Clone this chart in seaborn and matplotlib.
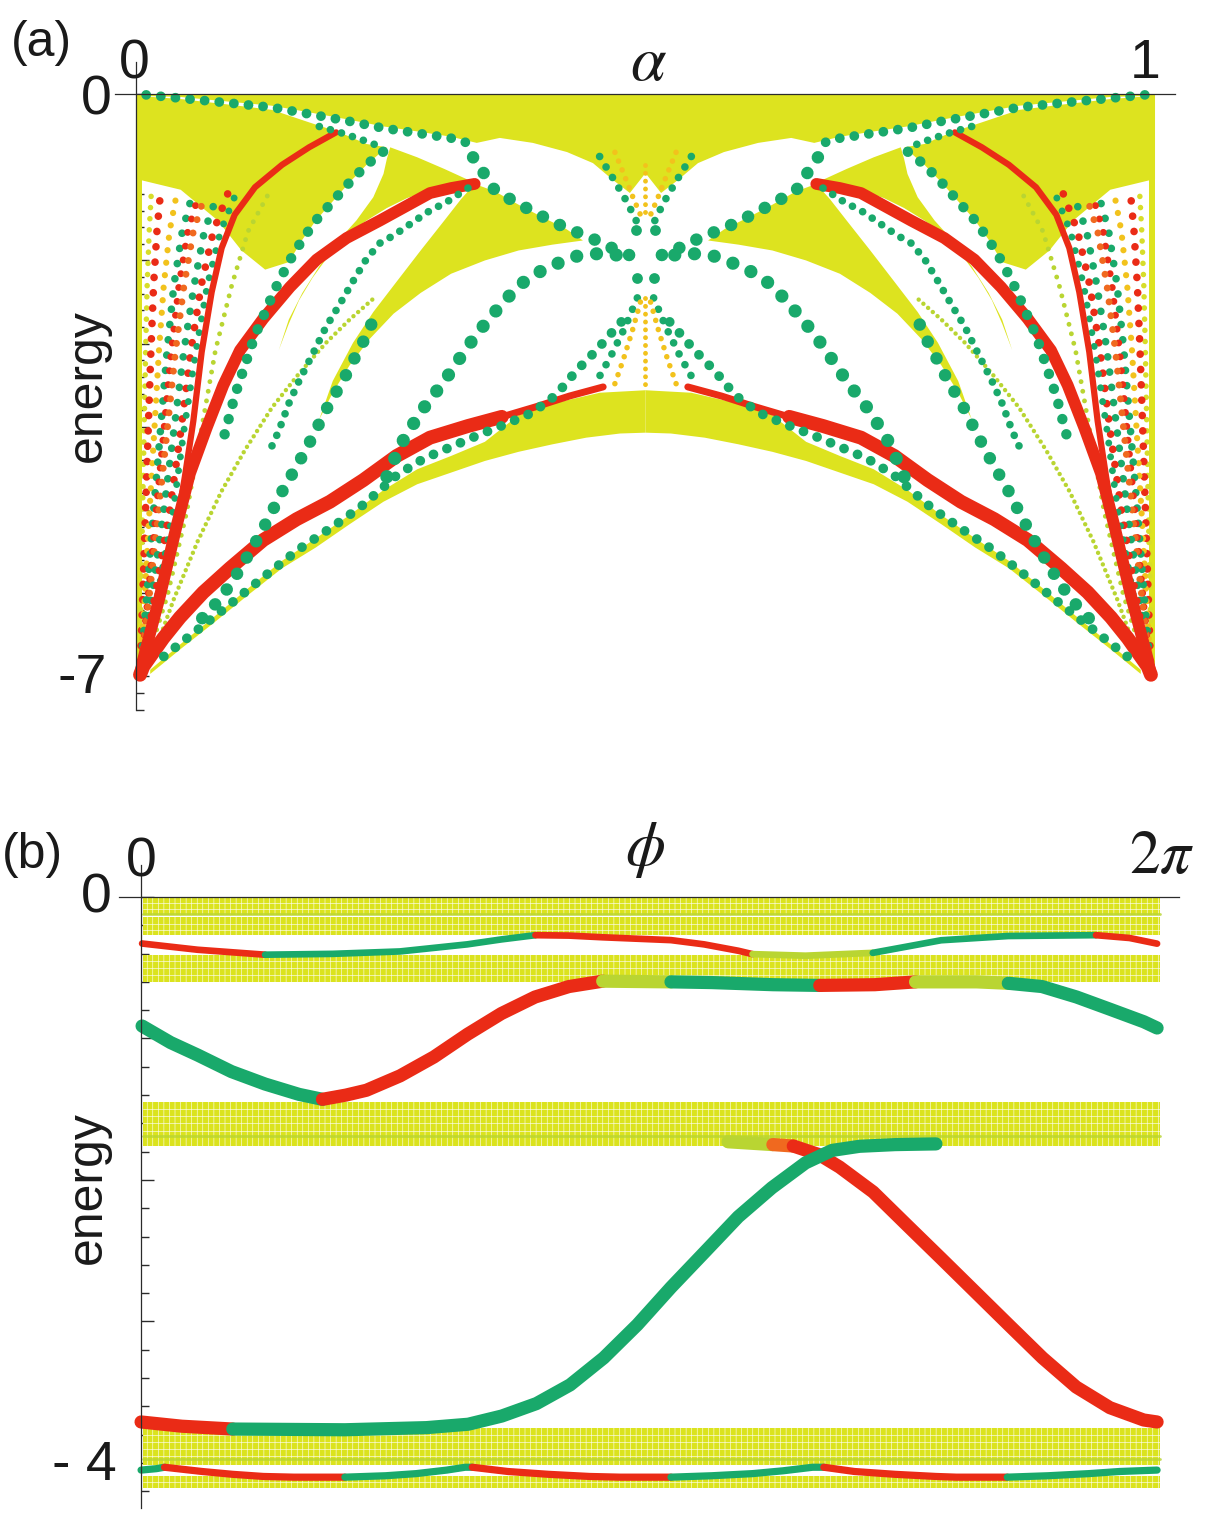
import numpy as np
import seaborn as sns
import matplotlib.pyplot as plt
from matplotlib.ticker import FixedLocator, NullFormatter

# colours picked off the figure
YEL = "#dde31f"
BAND = "#dbe31e"
LIME = "#b9d532"
GRN = "#19a96b"
RED = "#ea2b16"
ORG = "#f0691f"
GOLD = "#f2c21c"
AXC = "#2b2b2b"

# ---------------- panel (a): energy against alpha ----------------
# thick red edge curves (left half / mirrored right half share the energies)
r1_alpha_l = [0.0040, 0.0072, 0.0268, 0.0432, 0.0660, 0.0922, 0.1249, 0.1577, 0.1904, 0.2231, 0.2558, 0.2885, 0.3258, 0.3590, 0.3921, 0.4253, 0.4585]
r1_alpha_r = [0.9960, 0.9928, 0.9732, 0.9568, 0.9340, 0.9078, 0.8751, 0.8423, 0.8096, 0.7769, 0.7442, 0.7115, 0.6742, 0.6410, 0.6079, 0.5747, 0.5415]
r1_energy = [-6.98, -6.88, -6.54, -6.29, -5.99, -5.70, -5.36, -5.11, -4.90, -4.64, -4.35, -4.13, -3.99, -3.88, -3.76, -3.63, -3.52]

r2_alpha_l = [0.0040, 0.0072, 0.0236, 0.0399, 0.0530, 0.0694, 0.0857, 0.1021, 0.1249, 0.1511, 0.1773, 0.2068, 0.2394, 0.2885, 0.3092, 0.3324]
r2_alpha_r = [0.9960, 0.9928, 0.9764, 0.9601, 0.9470, 0.9306, 0.9143, 0.8979, 0.8751, 0.8489, 0.8227, 0.7932, 0.7606, 0.7115, 0.6908, 0.6676]
r2_energy = [-6.98, -6.79, -6.03, -5.19, -4.56, -4.01, -3.50, -3.08, -2.70, -2.32, -1.99, -1.73, -1.52, -1.19, -1.13, -1.08]

r3_alpha_l = [0.0040, 0.0236, 0.0399, 0.0480, 0.0563, 0.0645, 0.0743, 0.0841, 0.0969, 0.1168, 0.1434, 0.1699, 0.1964]
r3_alpha_r = [0.9960, 0.9764, 0.9601, 0.9520, 0.9437, 0.9355, 0.9257, 0.9159, 0.9031, 0.8832, 0.8566, 0.8301, 0.8036]
r3_energy = [-6.98, -6.03, -5.19, -4.60, -3.93, -3.10, -2.38, -1.85, -1.45, -1.12, -0.85, -0.64, -0.46]

# green dotted states
gtop_alpha_l = [0.0100, 0.0439, 0.0936, 0.1334, 0.1699, 0.2064, 0.2429, 0.2760, 0.3092, 0.3291]
gtop_alpha_r = [0.9900, 0.9561, 0.9064, 0.8666, 0.8301, 0.7936, 0.7571, 0.7240, 0.6908, 0.6709]
gtop_energy = [-0.01, -0.05, -0.11, -0.16, -0.24, -0.32, -0.41, -0.47, -0.53, -0.60]

gtop2_alpha_l = [0.1799, 0.1998, 0.2197, 0.2396]
gtop2_alpha_r = [0.8201, 0.8002, 0.7803, 0.7604]
gtop2_energy = [-0.39, -0.46, -0.54, -0.63]

gc1_alpha_l = [0.3308, 0.3407, 0.3523, 0.3755, 0.3988, 0.4220, 0.4452, 0.4651, 0.4850, 0.4950]
gc1_alpha_r = [0.6692, 0.6593, 0.6477, 0.6245, 0.6012, 0.5780, 0.5548, 0.5349, 0.5150, 0.5050]
gc1_energy = [-0.76, -0.94, -1.16, -1.32, -1.47, -1.61, -1.72, -1.84, -1.94, -1.98]

glow_alpha_l = [0.0273, 0.0604, 0.0936, 0.1268, 0.1600, 0.1931, 0.2197, 0.2396, 0.2561, 0.2827, 0.3092, 0.3358, 0.3623, 0.3888, 0.4120, 0.4319, 0.4518, 0.4717, 0.4850]
glow_alpha_r = [0.9727, 0.9396, 0.9064, 0.8732, 0.8400, 0.8069, 0.7803, 0.7604, 0.7439, 0.7173, 0.6908, 0.6642, 0.6377, 0.6112, 0.5880, 0.5681, 0.5482, 0.5283, 0.5150]
glow_energy = [-6.76, -6.44, -6.12, -5.79, -5.47, -5.20, -4.97, -4.76, -4.58, -4.38, -4.24, -4.10, -3.97, -3.83, -3.62, -3.33, -3.08, -2.80, -2.62]

gc2_alpha_l = [0.2462, 0.2595, 0.2794, 0.3026, 0.3258, 0.3457, 0.3755, 0.4021, 0.4319, 0.4585, 0.4900]
gc2_alpha_r = [0.7538, 0.7405, 0.7206, 0.6974, 0.6742, 0.6543, 0.6245, 0.5979, 0.5681, 0.5415, 0.5100]
gc2_energy = [-4.60, -4.22, -3.82, -3.45, -3.03, -2.71, -2.30, -2.09, -1.95, -1.91, -1.97]

g3_alpha_l = [0.0650, 0.0803, 0.0936, 0.1069, 0.1201, 0.1318, 0.1434, 0.1550, 0.1666, 0.1782, 0.1898, 0.2031, 0.2147, 0.2263, 0.2362]
g3_alpha_r = [0.9350, 0.9197, 0.9064, 0.8931, 0.8799, 0.8682, 0.8566, 0.8450, 0.8334, 0.8218, 0.8102, 0.7969, 0.7853, 0.7737, 0.7638]
g3_energy = [-6.30, -6.10, -5.88, -5.61, -5.33, -5.06, -4.78, -4.53, -4.28, -4.00, -3.72, -3.45, -3.17, -2.90, -2.62]

g7_alpha_l = [0.0870, 0.0969, 0.1069, 0.1168, 0.1268, 0.1367, 0.1500, 0.1633, 0.1765, 0.1931, 0.2097, 0.2263, 0.2429]
g7_alpha_r = [0.9130, 0.9031, 0.8931, 0.8832, 0.8732, 0.8633, 0.8500, 0.8367, 0.8235, 0.8069, 0.7903, 0.7737, 0.7571]
g7_energy = [-4.09, -3.63, -3.26, -2.90, -2.62, -2.34, -2.02, -1.75, -1.52, -1.29, -1.06, -0.85, -0.69]

g8_alpha_l = [0.3258, 0.3059, 0.2860, 0.2694, 0.2528, 0.2396, 0.2263, 0.2130, 0.1998, 0.1865, 0.1732, 0.1600, 0.1500, 0.1401, 0.1301]
g8_alpha_r = [0.6742, 0.6941, 0.7140, 0.7306, 0.7472, 0.7604, 0.7737, 0.7870, 0.8002, 0.8135, 0.8268, 0.8400, 0.8500, 0.8599, 0.8699]
g8_energy = [-1.13, -1.29, -1.42, -1.56, -1.70, -1.79, -1.98, -2.25, -2.53, -2.80, -3.13, -3.45, -3.72, -4.05, -4.32]

yl1_alpha_l = [0.0140, 0.0372, 0.0604, 0.0837, 0.1069, 0.1334, 0.1600, 0.1865, 0.2097, 0.2329]
yl1_alpha_r = [0.9860, 0.9628, 0.9396, 0.9163, 0.8931, 0.8666, 0.8400, 0.8135, 0.7903, 0.7671]
yl1_energy = [-6.85, -6.07, -5.38, -4.78, -4.28, -3.77, -3.36, -2.99, -2.71, -2.46]

# fan of levels crowding near alpha = 0 and alpha = 1
fan_energy = [-7.00, -6.02, -5.01, -4.05, -3.08, -2.30, -1.65, -1.20]
f10_alpha_l = [0.0030, 0.0050, 0.0065, 0.0080, 0.0095, 0.0110, 0.0130, 0.0150]
f10_alpha_r = [0.9970, 0.9950, 0.9935, 0.9920, 0.9905, 0.9890, 0.9870, 0.9850]
f1_alpha_l = [0.0040, 0.0067, 0.0094, 0.0120, 0.0147, 0.0173, 0.0206, 0.0240]
f1_alpha_r = [0.9960, 0.9933, 0.9906, 0.9880, 0.9853, 0.9827, 0.9794, 0.9760]
f7_alpha_l = [0.0040, 0.0087, 0.0133, 0.0180, 0.0226, 0.0273, 0.0330, 0.0400]
f7_alpha_r = [0.9960, 0.9913, 0.9867, 0.9820, 0.9774, 0.9727, 0.9670, 0.9600]
f2_alpha_l = [0.0040, 0.0107, 0.0173, 0.0240, 0.0306, 0.0372, 0.0455, 0.0555]
f2_alpha_r = [0.9960, 0.9893, 0.9827, 0.9760, 0.9694, 0.9628, 0.9545, 0.9445]
f8_alpha_l = [0.0040, 0.0120, 0.0198, 0.0273, 0.0348, 0.0422, 0.0509, 0.0618]
f8_alpha_r = [0.9960, 0.9880, 0.9802, 0.9727, 0.9652, 0.9578, 0.9491, 0.9382]
f5_alpha_l = [0.0040, 0.0132, 0.0223, 0.0306, 0.0389, 0.0472, 0.0563, 0.0680]
f5_alpha_r = [0.9960, 0.9868, 0.9777, 0.9694, 0.9611, 0.9528, 0.9437, 0.9320]
f3_alpha_l = [0.0040, 0.0157, 0.0273, 0.0372, 0.0472, 0.0571, 0.0671, 0.0803]
f3_alpha_r = [0.9960, 0.9843, 0.9727, 0.9628, 0.9528, 0.9429, 0.9329, 0.9197]
f6_alpha_l = [0.0040, 0.0190, 0.0330, 0.0440, 0.0540, 0.0640, 0.0760, 0.0900]
f6_alpha_r = [0.9960, 0.9810, 0.9670, 0.9560, 0.9460, 0.9360, 0.9240, 0.9100]
f9_alpha_l = [0.0040, 0.0213, 0.0365, 0.0470, 0.0590, 0.0700, 0.0830, 0.0980]
f9_alpha_r = [0.9960, 0.9787, 0.9635, 0.9530, 0.9410, 0.9300, 0.9170, 0.9020]
f4_alpha_l = [0.0060, 0.0310, 0.0500, 0.0640, 0.0780, 0.0940, 0.1100, 0.1300]
f4_alpha_r = [0.9940, 0.9690, 0.9500, 0.9360, 0.9220, 0.9060, 0.8900, 0.8700]

# central clusters
cl_up_alpha_l = [0.455, 0.470, 0.482, 0.492]
cl_up_alpha_r = [0.545, 0.530, 0.518, 0.508]
cl_up_energy = [-0.75, -1.05, -1.30, -1.55]
cl_up2_alpha_l = [0.470, 0.480, 0.488, 0.495]
cl_up2_alpha_r = [0.530, 0.520, 0.512, 0.505]
cl_up2_energy = [-0.70, -1.00, -1.25, -1.45]
cl_lo_alpha_l = [0.492, 0.480, 0.466, 0.450]
cl_lo_alpha_r = [0.508, 0.520, 0.534, 0.550]
cl_lo_energy = [-2.45, -2.80, -3.15, -3.50]
cl_lo2_alpha_l = [0.495, 0.487, 0.478, 0.468]
cl_lo2_alpha_r = [0.505, 0.513, 0.522, 0.532]
cl_lo2_energy = [-2.50, -2.85, -3.20, -3.55]
ctr_alpha = [0.5, 0.5]
ctr_up_energy = [-0.85, -1.50]
ctr_lo_energy = [-2.45, -3.55]
node_alpha = [0.491, 0.509, 0.492, 0.508]
node_energy = [-1.63, -1.63, -2.21, -2.21]

# yellow band regions (polygon outlines)
edge_alpha_l = [0.0, 0.006, 0.006, 0.0]
edge_alpha_r = [0.994, 1.0, 1.0, 0.994]
edge_energy = [0.0, 0.0, -7.0, -7.0]

y1_alpha = [0.0, 1.0, 1.0, 0.9561, 0.9064, 0.8666, 0.8301, 0.7936, 0.7571, 0.7240, 0.6908, 0.6656, 0.6430, 0.6105,
            0.5770, 0.5515, 0.5319, 0.5153, 0.5, 0.4847, 0.4681, 0.4485, 0.4230, 0.3895, 0.3570, 0.3344, 0.3092,
            0.2760, 0.2429, 0.2064, 0.1699, 0.1334, 0.0936, 0.0439, 0.0]
y1_energy = [0.0, 0.0, -0.02, -0.035, -0.094, -0.140, -0.219, -0.302, -0.389, -0.449, -0.513, -0.587, -0.527, -0.587,
             -0.697, -0.830, -1.033, -1.189, -0.950, -1.189, -1.033, -0.830, -0.697, -0.587, -0.527, -0.587, -0.513,
             -0.449, -0.389, -0.302, -0.219, -0.140, -0.094, -0.035, -0.02]

y1b_alpha_l = [0.0, 0.0439, 0.0936, 0.1334, 0.1699, 0.1998, 0.2263, 0.2462, 0.2263, 0.2097, 0.1931, 0.1765, 0.1633, 0.1500, 0.1268, 0.1036, 0.0803, 0.0439, 0.0]
y1b_alpha_r = [1.0, 0.9561, 0.9064, 0.8666, 0.8301, 0.8002, 0.7737, 0.7538, 0.7737, 0.7903, 0.8069, 0.8235, 0.8367, 0.8500, 0.8732, 0.8964, 0.9197, 0.9561, 1.0]
y1b_energy = [-0.02, -0.06, -0.13, -0.19, -0.34, -0.46, -0.60, -0.64, -0.85, -1.06, -1.29, -1.52, -1.75, -2.02, -2.11, -1.88, -1.52, -1.15, -1.02]

y2_alpha_l = [0.2495, 0.2760, 0.3026, 0.3258, 0.3324, 0.3092, 0.2860, 0.2661, 0.2462, 0.2263, 0.2064, 0.1898, 0.1732, 0.1600, 0.1500, 0.1401, 0.1500, 0.1633, 0.1799, 0.1964, 0.2163, 0.2329, 0.2429, 0.2462]
y2_alpha_r = [0.7505, 0.7240, 0.6974, 0.6742, 0.6676, 0.6908, 0.7140, 0.7339, 0.7538, 0.7737, 0.7936, 0.8102, 0.8268, 0.8400, 0.8500, 0.8599, 0.8500, 0.8367, 0.8201, 0.8036, 0.7837, 0.7671, 0.7571, 0.7538]
y2_energy = [-0.64, -0.76, -0.90, -1.03, -1.08, -1.10, -1.17, -1.25, -1.37, -1.52, -1.70, -1.93, -2.21, -2.48, -2.76, -3.08, -2.71, -2.39, -2.07, -1.79, -1.52, -1.24, -0.96, -0.78]

y3_alpha_l = [0.3324, 0.3523, 0.3755, 0.3988, 0.4220, 0.4386, 0.4087, 0.3755, 0.3424, 0.3092, 0.2794, 0.2528, 0.2296, 0.2097, 0.1931, 0.1799, 0.1931, 0.2130, 0.2329, 0.2561, 0.2794, 0.3026, 0.3192]
y3_alpha_r = [0.6676, 0.6477, 0.6245, 0.6012, 0.5780, 0.5614, 0.5913, 0.6245, 0.6576, 0.6908, 0.7206, 0.7472, 0.7704, 0.7903, 0.8069, 0.8201, 0.8069, 0.7870, 0.7671, 0.7439, 0.7206, 0.6974, 0.6808]
y3_energy = [-1.08, -1.17, -1.33, -1.48, -1.62, -1.76, -1.81, -1.88, -2.00, -2.16, -2.39, -2.64, -2.94, -3.26, -3.59, -3.91, -3.45, -2.99, -2.62, -2.25, -1.88, -1.52, -1.26]

y4_alpha_l = [0.0140, 0.0439, 0.0770, 0.1102, 0.1434, 0.1765, 0.2097, 0.2429, 0.2760, 0.3092, 0.3424, 0.3755, 0.4087, 0.4419, 0.4751, 0.5000,
              0.5000, 0.4552, 0.4160, 0.3755, 0.3424, 0.3092, 0.2760, 0.2429, 0.2097, 0.1765, 0.1434, 0.1102, 0.0770, 0.0439, 0.0140]
y4_alpha_r = [0.9860, 0.9561, 0.9230, 0.8898, 0.8566, 0.8235, 0.7903, 0.7571, 0.7240, 0.6908, 0.6576, 0.6245, 0.5913, 0.5581, 0.5249, 0.5000,
              0.5000, 0.5448, 0.5840, 0.6245, 0.6576, 0.6908, 0.7240, 0.7571, 0.7903, 0.8235, 0.8566, 0.8898, 0.9230, 0.9561, 0.9860]
y4_energy = [-6.97, -6.67, -6.35, -6.02, -5.70, -5.45, -5.17, -4.90, -4.69, -4.55, -4.41, -4.30, -4.21, -4.13, -4.08, -4.07,
             -3.56, -3.59, -3.70, -3.86, -4.18, -4.35, -4.51, -4.76, -5.06, -5.34, -5.61, -5.94, -6.28, -6.61, -6.92]

# ---------------- panel (b): energy against phi (in units of 2 pi) ----------------
band_phi = [0.002, 1.0]
band_top = [0.0, -0.145, -0.41, -1.45, -3.755, -4.09]
band_bottom = [-0.125, -0.27, -0.60, -1.76, -4.015, -4.18]
band_gaps = [-0.04, -0.085, -0.19, -0.235, -0.455, -0.50, -0.55, -1.50, -1.55, -1.60, -1.655, -3.80, -3.85, -3.90, -3.95, -4.135]
band_lines = [-0.118, -1.69, -3.97]

c1_phi = [0.001, 0.0555, 0.1217, 0.188, 0.254, 0.32, 0.3535, 0.387, 0.42, 0.453, 0.52, 0.5525, 0.586, 0.60, 0.652, 0.718, 0.752, 0.785, 0.851, 0.937, 0.97, 0.997]
c1_energy = [-0.329, -0.373, -0.408, -0.402, -0.385, -0.335, -0.30, -0.27, -0.273, -0.285, -0.305, -0.335, -0.38, -0.404, -0.415, -0.395, -0.35, -0.306, -0.276, -0.27, -0.29, -0.33]
c1_edge = "RRGGGGGRRRRRRYYGGGGRRR"

c2_phi = [0.001, 0.029, 0.0555, 0.0887, 0.1217, 0.155, 0.178, 0.2011, 0.2211, 0.2542, 0.2873, 0.3204, 0.3535, 0.3866, 0.4199,
          0.453, 0.52, 0.56, 0.62, 0.666, 0.72, 0.76, 0.82, 0.851, 0.884, 0.918, 0.951, 0.984, 0.997]
c2_energy = [-0.912, -1.029, -1.117, -1.234, -1.322, -1.395, -1.43, -1.40, -1.366, -1.264, -1.131, -0.970, -0.824, -0.707, -0.633,
             -0.595, -0.60, -0.605, -0.62, -0.625, -0.62, -0.60, -0.60, -0.61, -0.633, -0.707, -0.794, -0.882, -0.926]
c2_edge = "GGGGGGRRRRRRRRRYGGGRRYYGGGGGG"

c3_phi = [0.0, 0.04, 0.09, 0.2, 0.28, 0.321, 0.354, 0.388, 0.421, 0.454, 0.487, 0.52, 0.553, 0.586, 0.619, 0.652, 0.678, 0.705, 0.74, 0.78]
c3_energy = [-3.71, -3.74, -3.76, -3.765, -3.75, -3.726, -3.668, -3.58, -3.448, -3.257, -3.023, -2.759, -2.51, -2.26, -2.055, -1.879, -1.791, -1.762, -1.75, -1.745]
c3_edge = "RRGGGGGGGGGGGGGGGGGG"

c4_phi = [0.576, 0.62, 0.64, 0.6654, 0.6855, 0.7184, 0.7517, 0.7849, 0.8181, 0.8513, 0.8846, 0.9176, 0.9507, 0.9838, 0.997]
c4_energy = [-1.73, -1.75, -1.76, -1.821, -1.909, -2.085, -2.32, -2.553, -2.788, -3.023, -3.257, -3.463, -3.609, -3.696, -3.71]
c4_edge = "YORRRRRRRRRRRRR"

c5_phi = [0.0, 0.015, 0.023, 0.06, 0.09, 0.12, 0.15, 0.20, 0.24, 0.27, 0.30, 0.318, 0.325, 0.36, 0.40, 0.44, 0.47,
          0.52, 0.56, 0.60, 0.63, 0.659, 0.67, 0.70, 0.74, 0.78, 0.80, 0.85, 0.89, 0.93, 0.96, 0.997]
c5_energy = [-4.05, -4.04, -4.03, -4.06, -4.08, -4.095, -4.10, -4.10, -4.09, -4.075, -4.05, -4.03, -4.03, -4.06, -4.08, -4.095, -4.10,
             -4.10, -4.09, -4.075, -4.055, -4.03, -4.03, -4.06, -4.08, -4.095, -4.10, -4.10, -4.09, -4.075, -4.06, -4.05]
c5_edge = "GGRRRRRGGGGGRRRRRGGGGGRRRRRGGGGG"

EDGE_COLOURS = {"R": RED, "G": GRN, "Y": LIME, "O": ORG}


def dots(ax, a, e, color, size, gap=1.5, z=4):
    sns.lineplot(x=a, y=e, ax=ax, color=color, lw=size, sort=False, estimator=None,
                 linestyle=(0, (0.01, gap)), dash_capstyle="round", zorder=z)


def thick(ax, a, e, color, width, z=3):
    sns.lineplot(x=a, y=e, ax=ax, color=color, lw=width, sort=False, estimator=None,
                 solid_capstyle="round", solid_joinstyle="round", zorder=z)


def draw_runs(ax, x, y, labels, width, z=4):
    start = 0
    for i in range(1, len(labels) + 1):
        if i == len(labels) or labels[i] != labels[start]:
            stop = min(i + 1, len(labels))
            thick(ax, x[start:stop], y[start:stop], EDGE_COLOURS[labels[start]], width, z)
            start = i


def frame(ax, xlim, ylim, majors, minors):
    ax.set_xlim(*xlim)
    ax.set_ylim(*ylim)
    ax.set_facecolor("white")
    for s in ["right", "bottom"]:
        ax.spines[s].set_visible(False)
    for s in ["left", "top"]:
        ax.spines[s].set_position(("data", 0))
        ax.spines[s].set_color(AXC)
        ax.spines[s].set_linewidth(0.9)
        ax.spines[s].set_zorder(6)
    ax.set_xticks([])
    ax.yaxis.set_major_locator(FixedLocator(majors))
    ax.yaxis.set_minor_locator(FixedLocator(minors))
    ax.yaxis.set_major_formatter(NullFormatter())
    ax.yaxis.set_minor_formatter(NullFormatter())
    ax.tick_params(axis="y", which="both", direction="in", left=True, right=False,
                   color=AXC, width=1.0)
    ax.tick_params(axis="y", which="major", length=9)
    ax.tick_params(axis="y", which="minor", length=5.5)
    ax.set_xlabel("")
    ax.set_ylabel("")


sns.set_theme(style="white")
plt.rcParams["font.family"] = ["Liberation Sans", "DejaVu Sans"]
plt.rcParams["mathtext.fontset"] = "stix"
plt.rcParams["hatch.color"] = "white"
plt.rcParams["hatch.linewidth"] = 0.4

fig = plt.figure(figsize=(12.05, 15.13), dpi=100)
ax_a = fig.add_axes([0.0954, 0.5307, 0.8797, 0.4283])
ax_b = fig.add_axes([0.0988, 0.0033, 0.8797, 0.4250])

# ---- panel (a) ----
ax_a.fill(y1_alpha, y1_energy, color=YEL, lw=0, zorder=1)
for al, ar, en in [(edge_alpha_l, edge_alpha_r, edge_energy), (y1b_alpha_l, y1b_alpha_r, y1b_energy),
                   (y2_alpha_l, y2_alpha_r, y2_energy), (y3_alpha_l, y3_alpha_r, y3_energy),
                   (y4_alpha_l, y4_alpha_r, y4_energy)]:
    ax_a.fill(al, en, color=YEL, lw=0, zorder=1)
    ax_a.fill(ar, en, color=YEL, lw=0, zorder=1)

g = globals()
fans = [("f10", "#d7dd2a", 4.0), ("f1", RED, 5.5), ("f7", GOLD, 4.5), ("f2", GRN, 5.5), ("f8", RED, 5.0),
        ("f5", ORG, 5.0), ("f3", GRN, 5.5), ("f6", RED, 5.5), ("f9", GRN, 5.0), ("f4", LIME, 3.5)]
for side in ["l", "r"]:
    dots(ax_a, g["yl1_alpha_" + side], yl1_energy, LIME, 3.2, gap=1.4, z=2)
    for name, col, size in fans:
        dots(ax_a, g[name + "_alpha_" + side], fan_energy, col, size, gap=2.0, z=2.5)

    r1a = g["r1_alpha_" + side]
    thick(ax_a, r1a[:14], r1_energy[:14], RED, 10)
    thick(ax_a, r1a[13:], r1_energy[13:], RED, 5)
    thick(ax_a, g["r2_alpha_" + side], r2_energy, RED, 8.5)
    thick(ax_a, g["r3_alpha_" + side], r3_energy, RED, 4.5)

    dots(ax_a, g["gtop_alpha_" + side], gtop_energy, GRN, 7)
    dots(ax_a, g["gtop2_alpha_" + side], gtop2_energy, GRN, 5.5)
    dots(ax_a, g["gc1_alpha_" + side], gc1_energy, GRN, 9)
    dots(ax_a, g["glow_alpha_" + side], glow_energy, GRN, 7)
    dots(ax_a, g["gc2_alpha_" + side], gc2_energy, GRN, 9.5)
    dots(ax_a, g["g3_alpha_" + side], g3_energy, GRN, 9)
    dots(ax_a, g["g7_alpha_" + side], g7_energy, GRN, 7.5)
    dots(ax_a, g["g8_alpha_" + side], g8_energy, GRN, 5.5)
    dots(ax_a, g["cl_up_alpha_" + side], cl_up_energy, GRN, 5.5, gap=1.6)
    dots(ax_a, g["cl_up2_alpha_" + side], cl_up2_energy, GOLD, 4.0, gap=1.7)
    dots(ax_a, g["cl_lo_alpha_" + side], cl_lo_energy, GRN, 5.5, gap=1.6)
    dots(ax_a, g["cl_lo2_alpha_" + side], cl_lo2_energy, GOLD, 4.0, gap=1.7)

dots(ax_a, ctr_alpha, ctr_up_energy, GOLD, 3.5, gap=1.6, z=4)
dots(ax_a, ctr_alpha, ctr_lo_energy, GOLD, 3.5, gap=1.6, z=4)
sns.scatterplot(x=node_alpha, y=node_energy, ax=ax_a, color=GRN, s=60, linewidth=0, zorder=5)

frame(ax_a, (-0.0206, 1.0196), (-7.404, 0.385),
      [-7, -6, -5, -4, -3, -2, -1, 0],
      [round(-7.4 + 0.2 * k, 1) for k in range(38)])

# ---- panel (b) ----
for top, bot in zip(band_top, band_bottom):
    ax_b.fill_between(band_phi, [top, top], [bot, bot], facecolor=BAND, edgecolor="white",
                      hatch="|||", lw=0, zorder=1)
for e in band_gaps:
    sns.lineplot(x=band_phi, y=[e, e], ax=ax_b, color="white", lw=0.6, alpha=0.7, zorder=2)
for e in band_lines:
    sns.lineplot(x=band_phi, y=[e, e], ax=ax_b, color=LIME, lw=2.0, alpha=0.8, zorder=2)

draw_runs(ax_b, c1_phi, c1_energy, c1_edge, 4.8)
draw_runs(ax_b, c5_phi, c5_energy, c5_edge, 5.2)
draw_runs(ax_b, c4_phi, c4_energy, c4_edge, 9.5)
draw_runs(ax_b, c2_phi, c2_energy, c2_edge, 9.5)
draw_runs(ax_b, c3_phi, c3_energy, c3_edge, 9.5)

frame(ax_b, (-0.0216, 1.0186), (-4.318, 0.226),
      [-4, -3, -2, -1, 0],
      [round(-4.2 + 0.2 * k, 1) for k in range(22)])

# ---- labels ----
num = dict(fontsize=40, color="#1a1a1a", ha="center", va="baseline")
fig.text(0.0340, 0.9630, "(a)", fontsize=36, color="#1a1a1a", ha="center", va="baseline")
fig.text(0.1112, 0.9484, "0", **num)
fig.text(0.9502, 0.9484, "1", **num)
fig.text(0.5378, 0.9471, r"$\alpha$", fontsize=46, color="#1a1a1a", ha="center", va="baseline")
fig.text(0.0797, 0.9240, "0", **num)
fig.text(0.0680, 0.5420, "-7", **num)
fig.text(0.0730, 0.7450, "energy", fontsize=36, color="#1a1a1a", rotation=90, ha="center", va="center")

fig.text(0.0270, 0.4263, "(b)", fontsize=36, color="#1a1a1a", ha="center", va="baseline")
fig.text(0.1170, 0.4204, "0", **num)
fig.text(0.5353, 0.4382, r"$\phi$", fontsize=46, color="#1a1a1a", ha="center", va="center")
fig.text(0.9643, 0.4230, r"$2\pi$", fontsize=44, color="#1a1a1a", ha="center", va="baseline")
fig.text(0.0797, 0.3972, "0", **num)
fig.text(0.0697, 0.0218, "- 4", **num)
fig.text(0.0730, 0.2148, "energy", fontsize=36, color="#1a1a1a", rotation=90, ha="center", va="center")

fig.savefig("out.png", dpi=100)
